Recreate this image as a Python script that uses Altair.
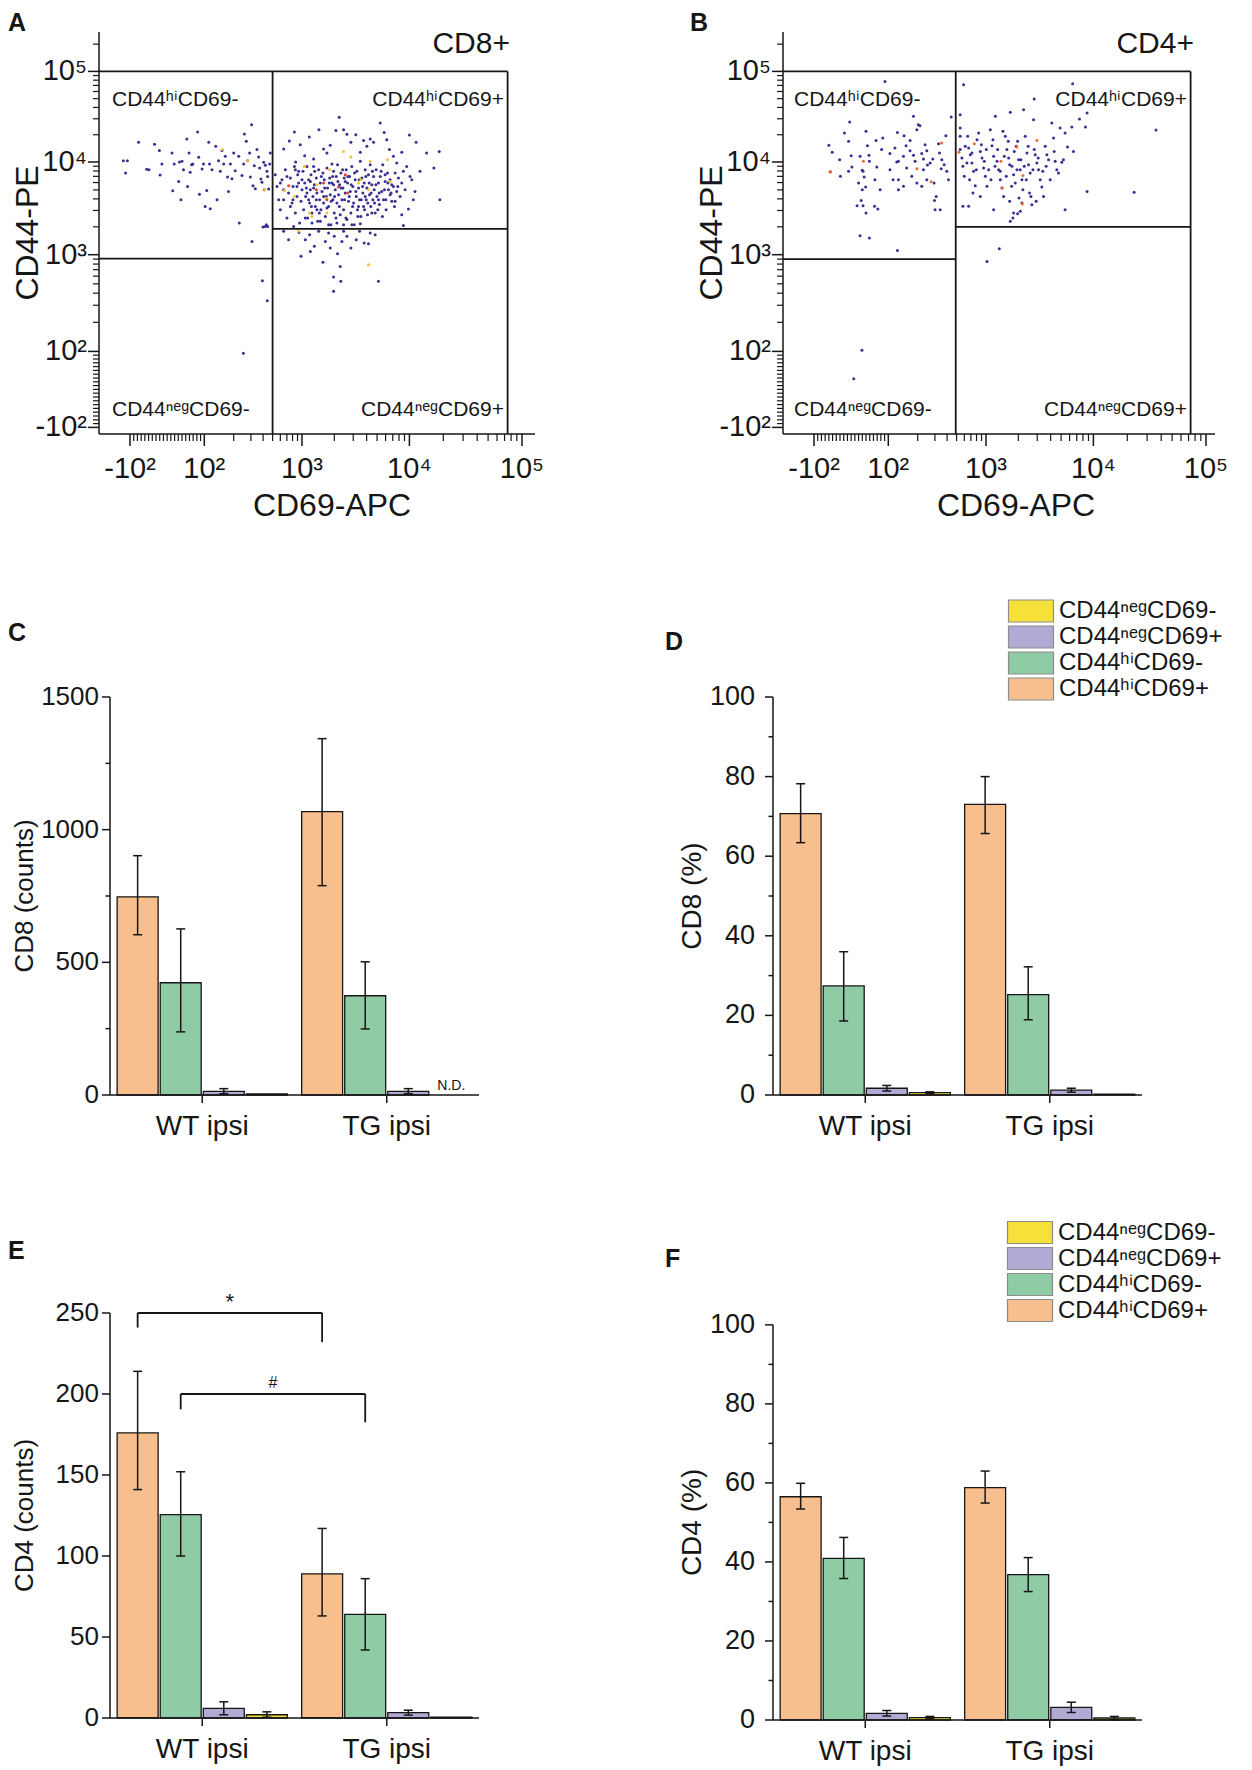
import math
import altair as alt
import pandas as pd

FONT = "Liberation Sans"
INK = "#161616"
DOT_BLUE = "#3A2E91"
DOT_YELLOW = "#F2C230"
DOT_RED = "#E2402C"
DOT_ORANGE = "#EE6A2E"

# ---------------------------------------------------------------------------
# Flow cytometry dot plots: (CD69-APC, CD44-PE) values
# ---------------------------------------------------------------------------
a_blue = [
    (-118, 10300), (-107, 10300), (-112, 7600), (-77, 16500), (-55, 8340), (-49, 8260), (-34, 15700),
    (-21, 13400), (-19, 7240), (-14, 9510), (13, 12600), (15, 4910), (19, 9510), (31, 6180), (33, 10000),
    (37, 3920), (40, 10200), (44, 8260), (53, 17900), (55, 5450), (59, 12600), (62, 7730), (66, 9350),
    (69, 9510), (82, 21400), (85, 11250), (87, 4480), (94, 8390), (98, 9510), (102, 3320), (106, 4940),
    (111, 16500), (113, 9510), (115, 3130), (120, 8260), (131, 14900), (135, 3920), (140, 10300),
    (146, 7930), (152, 13400), (158, 9510), (164, 11550), (173, 6880), (177, 4820), (185, 9510),
    (192, 6610), (200, 12600), (207, 8050), (225, 11550), (228, 2200), (243, 7130), (253, 9510),
    (257, 20400), (269, 16900), (278, 10300), (291, 12600), (296, 6880), (305, 25800), (308, 1390),
    (315, 5560), (325, 9120), (333, 5150), (346, 13700), (360, 11350), (369, 8610), (380, 6540),
    (389, 6030), (399, 1990), (405, 9910), (411, 5020), (421, 9200), (431, 2110), (438, 7930),
    (445, 6990), (456, 5110), (467, 9510), (474, 12600), (251, 95), (441, 334), (393, 538),
    (421, 2020), (445, 2020),
    (649, 13900), (741, 17100), (835, 21400), (861, 10000), (961, 15500), (1059, 11750), (1170, 18900),
    (1283, 10800), (1438, 22700), (1589, 13900), (1706, 12600), (1832, 15300), (1900, 9510),
    (2070, 22300), (2220, 31100), (2438, 22700), (2620, 20200), (2850, 16500), (3170, 20000),
    (3490, 12800), (3741, 17300), (4020, 14900), (4316, 17900), (4640, 16500), (5350, 26900),
    (5820, 21200), (6160, 17600), (6520, 13700), (7100, 11550), (7622, 9750), (8490, 12800),
    (10000, 19900), (11460, 16500), (14220, 12600), (18400, 13100), (16500, 8610), (18660, 3920),
    (8793, 7930), (10140, 6990), (11220, 4820), (12420, 7930), (9790, 3110), (8490, 2700),
    (8793, 2070), (7360, 3770), (6608, 4440),
    (533, 7290), (555, 5450), (577, 3920), (600, 3060), (624, 6440), (649, 5020), (675, 8260),
    (701, 2490), (729, 4620), (760, 6710), (790, 3610), (809, 5450), (835, 8970), (855, 2820),
    (889, 4250), (904, 7290), (924, 5930), (946, 2200), (977, 3770), (1000, 5020), (1021, 7930),
    (1036, 3060), (1059, 5930), (1081, 4250), (1112, 8970), (1129, 2490), (1153, 6440), (1178, 3610),
    (1195, 5020), (1213, 7290), (1239, 2820), (1265, 4250), (1283, 8970), (1303, 5690), (1330, 3320),
    (1359, 6710), (1377, 4620), (1400, 2290), (1429, 8260), (1459, 3920), (1480, 5930), (1500, 3060),
    (1535, 4820), (1567, 7600), (1589, 3610), (1611, 6440), (1648, 2590), (1684, 4250), (1706, 8610),
    (1730, 5230), (1770, 3320), (1808, 6710), (1832, 4430), (1857, 2110), (1900, 5930), (1941, 3920),
    (1968, 7930), (1997, 2820), (2040, 5020), (2084, 6990), (2113, 3610), (2143, 9350), (2191, 4430),
    (2240, 5690), (2270, 2700), (2300, 7600), (2355, 3920), (2405, 5230), (2438, 3060), (2472, 6710),
    (2525, 4620), (2580, 8260), (2620, 2390), (2655, 5930), (2710, 3770), (2773, 6990), (2812, 4820),
    (2850, 2820), (2910, 8970), (2977, 5450), (3020, 3610), (3063, 2110), (3128, 6440), (3200, 4250),
    (3243, 7930), (3288, 3060), (3360, 5230), (3435, 3920), (3490, 10200), (3530, 2590), (3608, 6710),
    (3690, 4620), (3741, 3320), (3795, 5930), (3875, 8260), (3960, 3920), (4020, 5230), (4075, 2700),
    (4160, 7290), (4250, 4430), (4316, 9350), (4375, 3320), (4470, 5690), (4565, 3920), (4640, 6990),
    (4700, 5020), (4800, 2820), (4900, 8260), (4978, 4250), (5150, 5930), (5260, 3470), (5350, 6990),
    (5530, 4820), (5650, 9350), (5742, 3920), (5940, 6180), (6070, 3060), (6250, 7600), (6380, 5020),
    (6608, 6440), (6850, 3770), (7100, 5450), (7360, 7600), (7622, 4820), (7910, 6710), (8190, 4250),
    (8490, 5930), (9120, 5020), (9440, 8970), (10500, 6440), (10840, 3920),
    (924, 7930), (1000, 6440), (1097, 5240), (1153, 3920), (1222, 3320), (1312, 7930), (1359, 3920),
    (1449, 2820), (1513, 6990), (1625, 5240), (1706, 3190), (1795, 5930), (1872, 3770), (1927, 6990),
    (2010, 4250), (2070, 2490), (2160, 6180), (2225, 3320), (2318, 5240), (2388, 8260), (2490, 3920),
    (2565, 2490), (2673, 6990), (2754, 4250), (2873, 5690), (2960, 3320), (3085, 7600), (3175, 4820),
    (3313, 2590), (3410, 6440), (3560, 3920), (3660, 5450), (3820, 3060), (3930, 6990), (4100, 3610),
    (4220, 5930), (4400, 4620), (4530, 7930), (4730, 3610), (4870, 5690), (5080, 3060), (5230, 4620),
    (5460, 7930), (5610, 2590), (5860, 5020), (6030, 3920), (6300, 5930), (6760, 4620), (7260, 3320),
    (7800, 5450), (1074, 2490), (1239, 2200), (1480, 2290), (1770, 2110), (2113, 2200), (2438, 2110),
    (2910, 2110), (3490, 2160), (1589, 4250), (1377, 3060), (1195, 6180), (1112, 4620), (1283, 5240),
    (1968, 5690), (2525, 6180), (3360, 3320), (3875, 4250), (4470, 2820), (5150, 3920), (5940, 7290),
    (6850, 5690), (889, 5450), (809, 3920), (701, 6990), (649, 3920), (600, 5930), (760, 3320),
    (855, 8260),
    (649, 1790), (729, 1450), (822, 2020), (931, 1740), (977, 961), (1074, 1450), (1178, 1640),
    (1195, 1086), (1303, 1230), (1429, 1790), (1567, 834), (1648, 1390), (1770, 1710), (1832, 1180),
    (1997, 1580), (2143, 1025), (2270, 757), (2355, 1390), (2438, 1790), (2620, 1580), (2850, 1180),
    (3200, 1450), (3435, 1790), (3795, 1340), (4160, 1315), (4316, 1710), (4800, 1640), (5150, 530),
    (1968, 588), (2300, 530), (1968, 418),
]
a_yellow = [
    (154, 13700), (280, 10300), (415, 5020), (662, 4940), (842, 4250), (1051, 8970), (1170, 2820),
    (1239, 2590), (1377, 5690), (1706, 2820), (1808, 8260), (2438, 13100), (2850, 11350), (3360, 5930),
    (3530, 6440), (4160, 5020), (4316, 10200), (6250, 10600), (6608, 6180), (4160, 789), (924, 1790),
    (1684, 4070),
]
a_red = [(729, 5560), (1359, 5020), (1706, 3920), (2191, 5370), (2655, 4620), (2525, 7290), (1589, 5930)]

b_blue = [
    (91, 77600), (-4, 27600), (-18, 20900), (-60, 15300), (-51, 12800), (-31, 10600), (-7, 16900),
    (0, 11750), (-56, 7870), (2, 8830), (24, 11550), (32, 7930), (40, 21800), (44, 15150), (48, 11850),
    (67, 17300), (69, 8830), (30, 8130), (35, 6880), (30, 5020), (27, 3850), (32, 3380), (16, 3380),
    (40, 2820), (63, 3330), (72, 3110), (24, 1600), (49, 1510), (124, 1110), (82, 13700), (104, 12400),
    (117, 14300), (127, 10200), (124, 21200), (85, 18400), (104, 8260), (112, 6440), (127, 5020),
    (143, 11550), (152, 15150), (167, 17300), (181, 11850), (188, 10200), (154, 8610), (174, 7000),
    (196, 5930), (145, 19500), (196, 22700), (211, 25200), (220, 12400), (238, 15500), (252, 9290),
    (268, 9750), (285, 10800), (294, 5930), (309, 4250), (327, 15900), (334, 12600), (353, 10600),
    (373, 9350), (388, 19500), (397, 7930), (413, 6440), (297, 3850), (340, 3060), (301, 3060),
    (229, 8260), (248, 6440), (220, 5460), (203, 25800), (181, 31900), (127, 6440), (122, 10000),
    (441, 31300), (348, 8470), (49, 10200), (78, 5020), (64, 6440), (-7, 7930), (-29, 7000), (20, 5930),
    (39, 5370), (229, 10800), (248, 13300), (167, 13300), (143, 5460), (29, 103), (7, 28),
    (590, 71300), (544, 19200), (544, 13700), (566, 11070), (580, 8980), (599, 7000), (544, 23700),
    (649, 19200), (664, 14300), (691, 12050), (718, 9750), (746, 7930), (776, 5560), (809, 17600),
    (875, 13100), (910, 11070), (946, 8610), (985, 7000), (1021, 5460), (1097, 22700), (1137, 15150),
    (1178, 11550), (1222, 31900), (1266, 10200), (1312, 8260), (1360, 6440), (1409, 5240), (1459, 4250),
    (1514, 19200), (1567, 13700), (1625, 11070), (1683, 35300), (1746, 8980), (1808, 7290), (1872, 5930),
    (1913, 14900), (1969, 16900), (2010, 10600), (2084, 8260), (2160, 6440), (2206, 5020), (2239, 37800),
    (2318, 19200), (2404, 12600), (2490, 9350), (2580, 7600), (2620, 4250), (2673, 3460), (2773, 29300),
    (2873, 12050), (2977, 9750), (3085, 8260), (3197, 6440), (3310, 5370), (3433, 4250), (3560, 14900),
    (3686, 12050), (3820, 10600), (4100, 26900), (4250, 18400), (4403, 10200), (4563, 8260),
    (4900, 23700), (5080, 9930), (5450, 20900), (5450, 3060), (5740, 14600), (6300, 24300),
    (6520, 13100), (7420, 29800), (8430, 24300), (8730, 4820), (6410, 73100), (8730, 34700),
    (2810, 49500), (1660, 3770), (1808, 2820), (2084, 2940), (2160, 3610), (1683, 2290), (1780, 2490),
    (1969, 2770), (735, 4630), (580, 3330), (544, 33300), (1330, 1160), (1021, 853), (36000, 22500),
    (23000, 4730),
    (613, 14900), (638, 9750), (679, 6440), (718, 12600), (796, 8260), (841, 20900), (896, 15500),
    (961, 10200), (1007, 13700), (1059, 8260), (1112, 6440), (1161, 17600), (1213, 8980), (1283, 13700),
    (1359, 7930), (1439, 21800), (1480, 11550), (1545, 7000), (1611, 16900), (1660, 9350), (1730, 5460),
    (1832, 13100), (1941, 8260), (2028, 4090), (2113, 10600), (2270, 8980), (2371, 6440), (2472, 14900),
    (2545, 4620), (2735, 8260), (2812, 13700), (2934, 3770), (3063, 11070), (3380, 7930), (3630, 8980),
    (3960, 6440), (4316, 13100), (4730, 7600), (5260, 10600), (664, 3330), (1178, 3060), (875, 4250),
]
b_yellow = []
b_orange = [
    (-57, 7800), (33, 10200), (196, 8470), (274, 6140), (353, 16200), (759, 15900), (1941, 14600),
    (2977, 17300), (1378, 10200), (2206, 7130), (1409, 5240), (2180, 3520), (528, 12800),
]

# quadrant gates (CD69 split, right limit, top limit, CD44 split left / right)
a_gates = dict(cd69_split=500, cd69_max=74500, cd44_max=1e5, cd44_left=910, cd44_right=1900)
b_gates = dict(cd69_split=490, cd69_max=73000, cd44_max=1e5, cd44_left=900, cd44_right=2000)

FLOW_MAJOR = [-100, 100, 1e3, 1e4, 1e5]
FLOW_LABELS = ["-10²", "10²", "10³", "10⁴", "10⁵"]
FLOW_MINOR = ([v for v in range(-90, 100, 10) if v != 0] + [0]
              + [m * 10 ** k for k in (2, 3, 4) for m in range(2, 10)] + [2e5])

# logicle-like display transform of the cytometer axes (value -> display unit)
X_ANCH = [(-100, 31.0), (100, 105.3), (1e3, 203.0), (1e4, 310.4), (1e5, 423.0)]
Y_ANCH = [(-100, 6.6), (100, 82.6), (1e3, 179.3), (1e4, 272.0), (1e5, 362.6)]

# ---------------------------------------------------------------------------
# Bar charts
# ---------------------------------------------------------------------------
GROUPS = ["WT ipsi", "TG ipsi"]
SUBSETS = ["CD44ʰⁱCD69+", "CD44ʰⁱCD69-", "CD44ⁿᵉᵍCD69+", "CD44ⁿᵉᵍCD69-"]   # bar order in a group
SUBSET_COLORS = ["#F8BF8E", "#8FCBA5", "#B3A9D5", "#F6E03A"]
LEGEND_ORDER = SUBSETS[::-1]
LEGEND_COLORS = SUBSET_COLORS[::-1]
NAN = float("nan")

# values listed WT (4 subsets) then TG (4 subsets)
c_mean = [747, 423, 14, 4, 1068, 374, 14, NAN]
c_lo = [604, 238, 5, NAN, 789, 249, 5, NAN]
c_hi = [902, 626, 24, NAN, 1343, 502, 24, NAN]

d_mean = [70.7, 27.4, 1.7, 0.6, 73.0, 25.2, 1.2, 0.2]
d_lo = [63.4, 18.6, 1.0, 0.4, 65.7, 18.9, 0.7, NAN]
d_hi = [78.2, 36.0, 2.4, 0.8, 80.0, 32.2, 1.7, NAN]

e_mean = [176, 125.5, 6, 2, 89, 64, 3.3, 0.6]
e_lo = [141, 100, 2, 0.5, 63, 42, 1.8, NAN]
e_hi = [214, 152, 10, 3.8, 117, 86, 4.8, NAN]

f_mean = [56.5, 40.9, 1.7, 0.6, 58.8, 36.8, 3.2, 0.5]
f_lo = [53.4, 35.8, 1.0, 0.3, 54.9, 32.5, 1.9, 0.1]
f_hi = [59.9, 46.2, 2.4, 0.9, 63.0, 41.1, 4.5, 0.9]

# significance brackets in E (subset compared WT vs TG)
bracket_subset = [0, 1]
bracket_top = [250, 200]
bracket_left_end = [241, 190.5]
bracket_right_end = [232, 182.5]
bracket_mark = ["*", "#"]

BAR_STEP = 0.2335     # distance between bar centres (group units)
BAR_HALF = 0.111      # half bar width (group units)
GROUP_PX = 184.5      # pixels per group unit
ONE = pd.DataFrame({"k": [0]})


def disp_py(v, anch):
    (v0, t0), (v1, t1) = anch[0], anch[1]
    if v <= v1:
        return t0 + (v - v0) * (t1 - t0) / (v1 - v0)
    lg = math.log10(v)
    segs = anch[1:]
    for i in range(len(segs) - 1):
        (va, ta), (vb, tb) = segs[i], segs[i + 1]
        la, lb = math.log10(va), math.log10(vb)
        if lg <= lb or i == len(segs) - 2:
            return ta + (lg - la) * (tb - ta) / (lb - la)


def disp_expr(f, anch):
    (v0, t0), (v1, t1) = anch[0], anch[1]
    lin = f"({t0} + ({f} - ({v0})) * {(t1 - t0) / (v1 - v0)})"
    lg = f"(log(max({f}, 1e-9)) / LN10)"
    segs = anch[1:]
    n = len(segs)
    (va, ta), (vb, tb) = segs[n - 2], segs[n - 1]
    la, lb = math.log10(va), math.log10(vb)
    expr = f"({ta} + ({lg} - {la}) * {(tb - ta) / (lb - la)})"
    for i in range(n - 3, -1, -1):
        (va, ta), (vb, tb) = segs[i], segs[i + 1]
        la, lb = math.log10(va), math.log10(vb)
        expr = f"({lg} <= {lb} ? ({ta} + ({lg} - {la}) * {(tb - ta) / (lb - la)}) : {expr})"
    return f"({f} <= {v1} ? {lin} : {expr})"


def text_layer(txt, x, y, size, align="left", baseline="alphabetic", weight="normal", angle=0):
    return alt.Chart(ONE).mark_text(
        text=txt, fontSize=size, align=align, baseline=baseline, fontWeight=weight,
        font=FONT, color=INK, angle=angle,
    ).encode(x=alt.value(x), y=alt.value(y))


def rule_px(x, y, x2=None, y2=None, width=1.5):
    enc = dict(x=alt.value(x), y=alt.value(y))
    if x2 is not None:
        enc["x2"] = alt.value(x2)
    if y2 is not None:
        enc["y2"] = alt.value(y2)
    return alt.Chart(ONE).mark_rule(color=INK, strokeWidth=width).encode(**enc)


FLOW_H = 402


def flow_panel(blue, yellow, hot, hot_color, W, gates, marker, letter, letter_x, left_x, right_x):
    H = FLOW_H
    xs = alt.Scale(domain=[0, W], nice=False, zero=False)
    ys = alt.Scale(domain=[0, H], nice=False, zero=False)
    ex = disp_expr("datum.cd69", X_ANCH)
    ey = disp_expr("datum.cd44", Y_ANCH)
    layers = []
    for pts, col in [(blue, DOT_BLUE), (yellow, DOT_YELLOW), (hot, hot_color)]:
        if not pts:
            continue
        df = pd.DataFrame(pts, columns=["cd69", "cd44"])
        layers.append(
            alt.Chart(df).transform_calculate(tx=ex, ty=ey)
            .mark_circle(size=9, opacity=1, color=col)
            .encode(x=alt.X("tx:Q", scale=xs, axis=None), y=alt.Y("ty:Q", scale=ys, axis=None))
        )
    # gates
    lo = -1000
    g = gates
    gdf = pd.DataFrame({
        "x1": [lo, g["cd69_max"], g["cd69_split"], lo, g["cd69_split"]],
        "y1": [g["cd44_max"], lo, lo, g["cd44_left"], g["cd44_right"]],
        "x2": [g["cd69_max"], g["cd69_max"], g["cd69_split"], g["cd69_split"], g["cd69_max"]],
        "y2": [g["cd44_max"], g["cd44_max"], g["cd44_max"], g["cd44_left"], g["cd44_right"]],
    })
    layers.append(
        alt.Chart(gdf).transform_calculate(
            tx1=f"max(0, {disp_expr('datum.x1', X_ANCH)})", tx2=disp_expr("datum.x2", X_ANCH),
            ty1=f"max(0, {disp_expr('datum.y1', Y_ANCH)})", ty2=disp_expr("datum.y2", Y_ANCH))
        .mark_rule(color=INK, strokeWidth=1.8)
        .encode(x=alt.X("tx1:Q", scale=xs, axis=None), x2="tx2:Q",
                y=alt.Y("ty1:Q", scale=ys, axis=None), y2="ty2:Q")
    )
    # axes drawn from the tick values
    minor = pd.DataFrame({"v": FLOW_MINOR})
    major = pd.DataFrame({"v": FLOW_MAJOR, "lab": FLOW_LABELS})
    mx = alt.Chart(minor).transform_calculate(tx=disp_expr("datum.v", X_ANCH)).transform_filter(
        f"datum.tx > 0 && datum.tx < {W}")
    my = alt.Chart(minor).transform_calculate(ty=disp_expr("datum.v", Y_ANCH)).transform_filter(
        f"datum.ty > 0 && datum.ty < {H}")
    jx = alt.Chart(major).transform_calculate(tx=disp_expr("datum.v", X_ANCH))
    jy = alt.Chart(major).transform_calculate(ty=disp_expr("datum.v", Y_ANCH))
    X = alt.X("tx:Q", scale=xs, axis=None)
    Y = alt.Y("ty:Q", scale=ys, axis=None)
    layers += [
        mx.mark_rule(color=INK, strokeWidth=1.2).encode(x=X, y=alt.value(H), y2=alt.value(H + 7)),
        my.mark_rule(color=INK, strokeWidth=1.2).encode(y=Y, x=alt.value(0), x2=alt.value(-6)),
        jx.mark_rule(color=INK, strokeWidth=1.5).encode(x=X, y=alt.value(H), y2=alt.value(H + 12)),
        jy.mark_rule(color=INK, strokeWidth=1.5).encode(y=Y, x=alt.value(0), x2=alt.value(-11)),
        jx.mark_text(fontSize=29, font=FONT, color=INK, align="center", baseline="alphabetic").encode(
            x=X, y=alt.value(H + 44), text="lab:N"),
        jy.mark_text(fontSize=29, font=FONT, color=INK, align="right", baseline="middle").encode(
            y=Y, x=alt.value(-12), text="lab:N"),
        rule_px(0, H, x2=W),
        rule_px(0, 0, y2=H),
        text_layer("CD69-APC", 233, H + 82, 32, align="center"),
        text_layer("CD44-PE", -61, H / 2, 32, align="center", angle=270),
        text_layer(marker, 411, 21, 30, align="right"),
        text_layer("CD44ʰⁱCD69-", left_x, 74, 21),
        text_layer("CD44ʰⁱCD69+", right_x, 74, 21, align="right"),
        text_layer("CD44ⁿᵉᵍCD69-", left_x, 384, 21),
        text_layer("CD44ⁿᵉᵍCD69+", right_x, 384, 21, align="right"),
        text_layer(letter, letter_x, -1, 25, weight="bold"),
    ]
    return alt.layer(*layers).properties(width=W, height=H)


def bar_panel(mean, lo, hi, width, height, ydom_top, yline_top, yticks, yminor, ytitle, title_x,
              title_size, axis_px, label_gap, label_size, letter, letter_xy, legend_xy=None,
              brackets=False):
    rows = []
    for gi, gname in enumerate(GROUPS):
        for si, sname in enumerate(SUBSETS):
            k = gi * 4 + si
            rows.append(dict(group=gname, gi=gi, si=si, subset=sname,
                             mean=mean[k], lo=lo[k], hi=hi[k]))
    df = pd.DataFrame(rows)
    xdom_left = -0.5 - axis_px / GROUP_PX
    xs = alt.Scale(domain=[xdom_left, 1.5], nice=False, zero=False)
    ys = alt.Scale(domain=[0, ydom_top], nice=False, zero=False)
    base = alt.Chart(df).transform_calculate(xc=f"datum.gi + (datum.si - 1.5) * {BAR_STEP}")

    if legend_xy is None:
        legend = None
    else:
        legend = alt.Legend(orient="none", legendX=legend_xy[0], legendY=legend_xy[1], title=None,
                            direction="vertical", symbolType="M-2,-0.98H2V0.98H-2Z", symbolSize=506,
                            symbolStrokeColor="#8c8c8c", symbolStrokeWidth=1.2, symbolOpacity=1,
                            labelFontSize=24, labelFont=FONT, labelColor=INK, labelOffset=16,
                            rowPadding=-2.5, padding=0, symbolOffset=0, labelLimit=400)
    bars = (
        base.transform_filter("isValid(datum.mean)")
        .transform_calculate(x1=f"datum.xc - {BAR_HALF}", x2=f"datum.xc + {BAR_HALF}")
        .mark_rect(stroke=INK, strokeWidth=1.3)
        .encode(
            x=alt.X("x1:Q", scale=xs, axis=None),
            x2="x2:Q",
            y=alt.Y("mean:Q", scale=ys, axis=None),
            y2=alt.Y2Datum(0),
            color=alt.Color("subset:N", scale=alt.Scale(domain=LEGEND_ORDER, range=LEGEND_COLORS),
                            legend=legend),
        )
    )
    err = base.transform_filter("isValid(datum.lo) && isValid(datum.hi) && datum.hi > datum.lo")
    XC = alt.X("xc:Q", scale=xs, axis=None)
    err_line = err.mark_rule(color=INK, strokeWidth=1.5).encode(
        x=XC, y=alt.Y("lo:Q", scale=ys, axis=None), y2="hi:Q")
    cap_hi = err.mark_tick(orient="horizontal", size=9, thickness=1.5, color=INK, opacity=1).encode(
        x=XC, y=alt.Y("hi:Q", scale=ys, axis=None))
    cap_lo = err.mark_tick(orient="horizontal", size=9, thickness=1.5, color=INK, opacity=1).encode(
        x=XC, y=alt.Y("lo:Q", scale=ys, axis=None))
    nd = base.transform_filter("!isValid(datum.mean)").mark_text(
        text="N.D.", fontSize=14, align="center", baseline="alphabetic", dy=-5, font=FONT, color=INK
    ).encode(x=XC, y=alt.value(height))

    # axis lines, ticks and labels
    frame = pd.DataFrame({"x0": [-0.5], "x1": [1.5], "y0": [0], "yt": [yline_top]})
    fr = alt.Chart(frame)
    vline = fr.mark_rule(color=INK, strokeWidth=1.5).encode(
        x=alt.X("x0:Q", scale=xs, axis=None), y=alt.Y("y0:Q", scale=ys, axis=None), y2="yt:Q")
    hline = fr.mark_rule(color=INK, strokeWidth=1.5).encode(
        x=alt.X("x0:Q", scale=xs, axis=None), x2="x1:Q", y=alt.Y("y0:Q", scale=ys, axis=None))
    yt = alt.Chart(pd.DataFrame({"v": yticks, "lab": [str(v) for v in yticks]}))
    YV = alt.Y("v:Q", scale=ys, axis=None)
    xt = alt.Chart(pd.DataFrame({"g": [0, 1], "lab": GROUPS}))
    XG = alt.X("g:Q", scale=xs, axis=None)
    y_top_px = height * (1 - yline_top / ydom_top)
    layers = [
        bars, err_line, cap_hi, cap_lo, nd, vline, hline,
        yt.mark_rule(color=INK, strokeWidth=1.5).encode(y=YV, x=alt.value(axis_px - 8), x2=alt.value(axis_px)),
        yt.mark_text(fontSize=label_size, font=FONT, color=INK, align="right", baseline="middle").encode(
            y=YV, x=alt.value(axis_px - 8 - label_gap), text="lab:N"),
        xt.mark_rule(color=INK, strokeWidth=1.5).encode(x=XG, y=alt.value(height), y2=alt.value(height + 8)),
        xt.mark_text(fontSize=28, font=FONT, color=INK, align="center", baseline="alphabetic").encode(
            x=XG, y=alt.value(height + 40), text="lab:N"),
        text_layer(ytitle, axis_px + title_x, (y_top_px + height) / 2, title_size, align="center", angle=270),
    ]
    if yminor:
        layers.append(
            alt.Chart(pd.DataFrame({"v": yminor})).mark_rule(color=INK, strokeWidth=1.5).encode(
                y=YV, x=alt.value(axis_px - 4.5), x2=alt.value(axis_px))
        )
    if brackets:
        bdf = pd.DataFrame({"s": bracket_subset, "top": bracket_top, "lend": bracket_left_end,
                            "rend": bracket_right_end, "mark": bracket_mark})
        bb = alt.Chart(bdf).transform_calculate(
            bx1=f"(datum.s - 1.5) * {BAR_STEP}", bx2=f"1 + (datum.s - 1.5) * {BAR_STEP}",
            bmid=f"0.5 + (datum.s - 1.5) * {BAR_STEP}")
        TOP = alt.Y("top:Q", scale=ys, axis=None)
        layers += [
            bb.mark_rule(color=INK, strokeWidth=1.8).encode(
                x=alt.X("bx1:Q", scale=xs, axis=None), x2="bx2:Q", y=TOP),
            bb.mark_rule(color=INK, strokeWidth=1.8).encode(
                x=alt.X("bx1:Q", scale=xs, axis=None), y=TOP, y2="lend:Q"),
            bb.mark_rule(color=INK, strokeWidth=1.8).encode(
                x=alt.X("bx2:Q", scale=xs, axis=None), y=TOP, y2="rend:Q"),
            bb.transform_filter("datum.mark == '*'").mark_text(
                fontSize=22, align="center", baseline="alphabetic", dy=-4, font=FONT, color=INK).encode(
                x=alt.X("bmid:Q", scale=xs, axis=None), y=TOP, text="mark:N"),
            bb.transform_filter("datum.mark != '*'").mark_text(
                fontSize=16, align="center", baseline="alphabetic", dy=-6, font=FONT, color=INK).encode(
                x=alt.X("bmid:Q", scale=xs, axis=None), y=TOP, text="mark:N"),
        ]
    layers.append(text_layer(letter, letter_xy[0], letter_xy[1], 25, weight="bold"))
    return alt.layer(*layers).properties(width=width, height=height)


ROW2_H = 443
panel_a = flow_panel(a_blue, a_yellow, a_red, DOT_RED, 436, a_gates, "CD8+", "A", -91, 13, 405)
panel_b = flow_panel(b_blue, b_yellow, b_orange, DOT_ORANGE, 432, b_gates, "CD4+", "B", -93, 11, 404)
panel_c = bar_panel(c_mean, c_lo, c_hi, 380, ROW2_H, 1500 * ROW2_H / 398, 1500, [0, 500, 1000, 1500],
                    [250, 750, 1250], "CD8 (counts)", -77, 26, 11, 3, 26, "C", (-91, -11))
panel_d = bar_panel(d_mean, d_lo, d_hi, 359, ROW2_H, 100 * ROW2_H / 398, 100, [0, 20, 40, 60, 80, 100],
                    [10, 30, 50, 70, 90], "CD8 (%)", -72, 28, -10, 10, 27, "D", (-118, -2),
                    legend_xy=(236, -53))
panel_e = bar_panel(e_mean, e_lo, e_hi, 380, 405, 250, 250, [0, 50, 100, 150, 200, 250], [],
                    "CD4 (counts)", -77, 26, 11, 3, 26, "E", (-91, -54), brackets=True)
panel_f = bar_panel(f_mean, f_lo, f_hi, 359, 407, 103, 100, [0, 20, 40, 60, 80, 100],
                    [10, 30, 50, 70, 90], "CD4 (%)", -72, 28, -10, 10, 27, "F", (-118, -46),
                    legend_xy=(235, -92.5))

chart = (
    alt.concat(panel_a, panel_b, panel_c, panel_d, panel_e, panel_f, columns=2,
               spacing={"row": 218, "column": 248}, bounds="flush")
    .resolve_scale(color="independent", x="independent", y="independent")
    .properties(padding={"top": 3, "left": 0, "right": 0, "bottom": 0})
    .configure_view(stroke=None)
    .configure_legend(labelFont=FONT, labelColor=INK)
)

chart.save("out.html", embed_options={"renderer": "svg", "actions": False})
